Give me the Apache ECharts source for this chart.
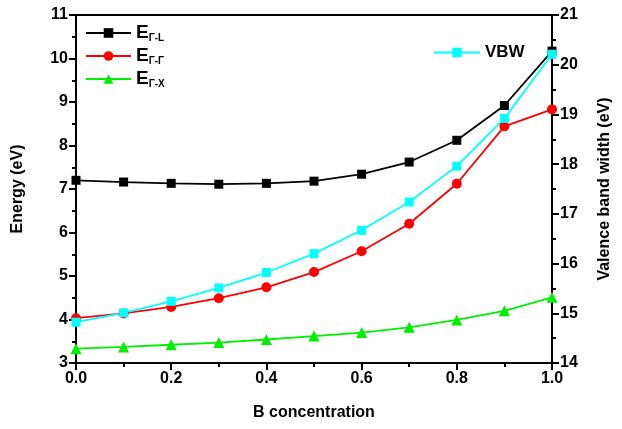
<!DOCTYPE html>
<html><head><meta charset="utf-8">
<script src="https://cdn.jsdelivr.net/npm/echarts@6/dist/echarts.min.js"></script>
<style>html,body{margin:0;padding:0;background:#fff}#c{width:622px;height:429px}</style>
</head><body><div id="c"></div>
<script>
const xValues = [0.0, 0.1, 0.2, 0.3, 0.4, 0.5, 0.6, 0.7, 0.8, 0.9, 1.0];
const eGL = [7.20, 7.16, 7.13, 7.11, 7.13, 7.18, 7.34, 7.62, 8.12, 8.92, 10.17];
const eGG = [4.03, 4.14, 4.29, 4.49, 4.74, 5.09, 5.57, 6.20, 7.12, 8.44, 8.83];
const eGX = [3.33, 3.37, 3.42, 3.47, 3.54, 3.62, 3.70, 3.82, 3.99, 4.20, 4.51];
const vbw = [14.82, 15.01, 15.24, 15.51, 15.82, 16.20, 16.67, 17.24, 17.96, 18.92, 20.21];
const seriesNames = ['E_Γ-L', 'E_Γ-Γ', 'E_Γ-X', 'VBW'];
const subs = {'E_Γ-L': 'Γ-L', 'E_Γ-Γ': 'Γ-Γ', 'E_Γ-X': 'Γ-X'};

const font = '"Liberation Sans", Arial, sans-serif';
const pair = arr => xValues.map((x, i) => [x, arr[i]]);
const chart = echarts.init(document.getElementById('c'));
const mkAxis = () => ({
  axisLine: {show: true, onZero: false, lineStyle: {color: '#000', width: 2}},
  axisTick: {show: true, inside: false, length: 7, lineStyle: {color: '#000', width: 2}},
  minorTick: {show: true, splitNumber: 2, length: 4, lineStyle: {color: '#000', width: 2}},
  splitLine: {show: false},
  minorSplitLine: {show: false},
  axisLabel: {show: true, color: '#000', fontFamily: font, fontWeight: 'bold', fontSize: 16, margin: 8},
  nameTextStyle: {color: '#000', fontFamily: font, fontWeight: 'bold', fontSize: 16}
});
const xMain = mkAxis();
xMain.axisLabel.formatter = v => v.toFixed(1);
chart.setOption({
  animation: false,
  backgroundColor: '#fff',
  grid: {left: 76, right: 70, top: 15, bottom: 66},
  legend: [{
    data: seriesNames.slice(0, 3),
    orient: 'vertical', left: 80, top: 18,
    itemWidth: 45, itemHeight: 12, itemGap: 3,
    formatter: n => '{e|E}{s|' + subs[n] + '}',
    textStyle: {
      color: '#000',
      rich: {
        e: {fontFamily: font, fontWeight: 'bold', fontSize: 19, lineHeight: 19, color: '#000'},
        s: {fontFamily: font, fontWeight: 'bold', fontSize: 10, lineHeight: 10, color: '#000', padding: [10, 0, 0, 0]}
      }
    }
  }, {
    data: ['VBW'],
    left: 428, top: 39,
    itemWidth: 46, itemHeight: 12,
    textStyle: {color: '#000', fontFamily: font, fontWeight: 'bold', fontSize: 17}
  }],
  xAxis: [Object.assign(xMain, {
    type: 'value', position: 'bottom', min: 0, max: 1, interval: 0.2,
    name: 'B concentration', nameLocation: 'middle', nameGap: 42
  }), {
    type: 'value', position: 'top', min: 0, max: 1,
    axisLine: {show: true, onZero: false, lineStyle: {color: '#000', width: 2}},
    axisTick: {show: false}, axisLabel: {show: false}, splitLine: {show: false}
  }],
  yAxis: [Object.assign(mkAxis(), {
    type: 'value', position: 'left', min: 3, max: 11, interval: 1,
    name: 'Energy (eV)', nameLocation: 'middle', nameGap: 50
  }), Object.assign(mkAxis(), {
    type: 'value', position: 'right', min: 14, max: 21, interval: 1,
    name: 'Valence band width (eV)', nameLocation: 'middle', nameGap: 45
  })],
  series: [
    {name: 'E_Γ-L', type: 'line', data: pair(eGL), yAxisIndex: 0, symbol: 'rect', symbolSize: 9,
     itemStyle: {color: '#000'}, lineStyle: {color: '#000', width: 1.8}},
    {name: 'E_Γ-Γ', type: 'line', data: pair(eGG), yAxisIndex: 0, symbol: 'circle', symbolSize: 10,
     itemStyle: {color: '#ff0000'}, lineStyle: {color: '#ff0000', width: 1.8}},
    {name: 'E_Γ-X', type: 'line', data: pair(eGX), yAxisIndex: 0, symbol: 'triangle', symbolSize: 11,
     itemStyle: {color: '#00ee00'}, lineStyle: {color: '#00ee00', width: 1.8}},
    {name: 'VBW', type: 'line', data: pair(vbw), yAxisIndex: 1, symbol: 'rect', symbolSize: 9,
     itemStyle: {color: '#00ffff'}, lineStyle: {color: '#00ffff', width: 1.8}}
  ]
});
</script></body></html>
